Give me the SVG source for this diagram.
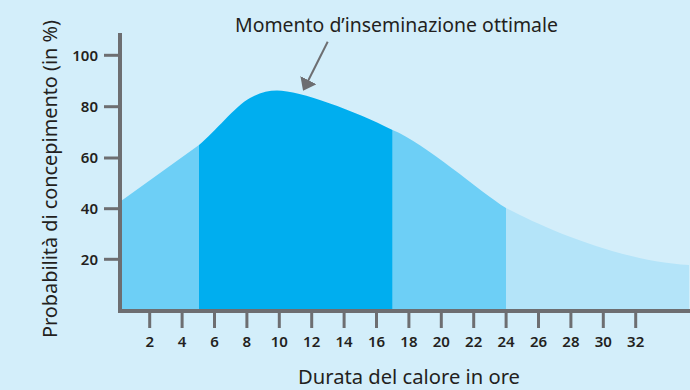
<svg xmlns="http://www.w3.org/2000/svg" width="690" height="390" viewBox="0 0 690 390">
<style>
.t{font-family:"Noto Sans","Open Sans","DejaVu Sans",sans-serif;fill:#231f20}
.title{font-size:20px}
.num{font-size:15px;font-weight:600}
.ax{stroke:#6d6e71;fill:none}
</style>
<defs>
<path id="curve" d="M120,312 L120,201.7 L199,145 C215,132 235,106.3 250,98 C259,93 268,90.5 277,90.5 C300,90.5 355,111 392.5,130 C425,143 480,192 506,208 C545,228.7 620,261 689,265 L689,312 Z"/>
<clipPath id="c1"><rect x="0" y="0" width="199" height="390"/></clipPath>
<clipPath id="c2"><rect x="199" y="0" width="193.7" height="390"/></clipPath>
<clipPath id="c3"><rect x="392.7" y="0" width="113.3" height="390"/></clipPath>
<clipPath id="c4"><rect x="506" y="0" width="184" height="390"/></clipPath>
<marker id="ah" viewBox="0 0 12 18" refX="1" refY="9" markerWidth="12" markerHeight="18" markerUnits="userSpaceOnUse" orient="auto">
<path d="M0,0 L12,9 L0,18 Z" fill="#6d6e71"/>
</marker>
</defs>
<rect width="690" height="390" fill="#d3eefa"/>
<g id="areas">
<use href="#curve" fill="#6dcff6" clip-path="url(#c1)"/>
<use href="#curve" fill="#00aeef" clip-path="url(#c2)"/>
<use href="#curve" fill="#6dcff6" clip-path="url(#c3)"/>
<use href="#curve" fill="#b4e4f9" clip-path="url(#c4)"/>
</g>
<g id="axes">
<line class="ax" x1="120" y1="33" x2="120" y2="313" stroke-width="4"/>
<line class="ax" x1="118" y1="311" x2="690" y2="311" stroke-width="4"/>
<g stroke-width="3" class="ax">
<line x1="104" y1="55.3" x2="120" y2="55.3"/>
<line x1="104" y1="106.7" x2="120" y2="106.7"/>
<line x1="104" y1="158" x2="120" y2="158"/>
<line x1="104" y1="208.7" x2="120" y2="208.7"/>
<line x1="104" y1="259.3" x2="120" y2="259.3"/>
<line x1="149.7" y1="311" x2="149.7" y2="328"/>
<line x1="182.1" y1="311" x2="182.1" y2="328"/>
<line x1="214.5" y1="311" x2="214.5" y2="328"/>
<line x1="246.9" y1="311" x2="246.9" y2="328"/>
<line x1="279.3" y1="311" x2="279.3" y2="328"/>
<line x1="311.7" y1="311" x2="311.7" y2="328"/>
<line x1="344.1" y1="311" x2="344.1" y2="328"/>
<line x1="376.5" y1="311" x2="376.5" y2="328"/>
<line x1="408.9" y1="311" x2="408.9" y2="328"/>
<line x1="441.3" y1="311" x2="441.3" y2="328"/>
<line x1="473.7" y1="311" x2="473.7" y2="328"/>
<line x1="506.1" y1="311" x2="506.1" y2="328"/>
<line x1="538.5" y1="311" x2="538.5" y2="328"/>
<line x1="570.9" y1="311" x2="570.9" y2="328"/>
<line x1="603.3" y1="311" x2="603.3" y2="328"/>
<line x1="635.7" y1="311" x2="635.7" y2="328"/>
</g>
</g>
<g id="y-labels" class="t num" text-anchor="end">
<text x="98" y="60.5">100</text>
<text x="98" y="112">80</text>
<text x="98" y="163.3">60</text>
<text x="98" y="214">40</text>
<text x="98" y="264.6">20</text>
</g>
<g id="x-labels" class="t num" text-anchor="middle">
<text x="149.7" y="347">2</text>
<text x="182.1" y="347">4</text>
<text x="214.5" y="347">6</text>
<text x="246.9" y="347">8</text>
<text x="279.3" y="347">10</text>
<text x="311.7" y="347">12</text>
<text x="344.1" y="347">14</text>
<text x="376.5" y="347">16</text>
<text x="408.9" y="347">18</text>
<text x="441.3" y="347">20</text>
<text x="473.7" y="347">22</text>
<text x="506.1" y="347">24</text>
<text x="538.5" y="347">26</text>
<text x="570.9" y="347">28</text>
<text x="603.3" y="347">30</text>
<text x="635.7" y="347">32</text>
</g>
<g id="y-title">
<text class="t title" transform="translate(57,338) rotate(-90)" x="0" y="0" textLength="318" lengthAdjust="spacingAndGlyphs">Probabilità di concepimento (in %)</text>
</g>
<g id="x-title">
<text class="t title" x="298" y="384.3" textLength="222" lengthAdjust="spacingAndGlyphs">Durata del calore in ore</text>
</g>
<g id="annotation">
<text class="t title" x="235" y="31.7" textLength="323" lengthAdjust="spacingAndGlyphs">Momento d’inseminazione ottimale</text>
</g>
<g id="connectors">
<line x1="327.7" y1="41.7" x2="308" y2="81" stroke="#6d6e71" stroke-width="2" marker-end="url(#ah)"/>
</g>
</svg>
